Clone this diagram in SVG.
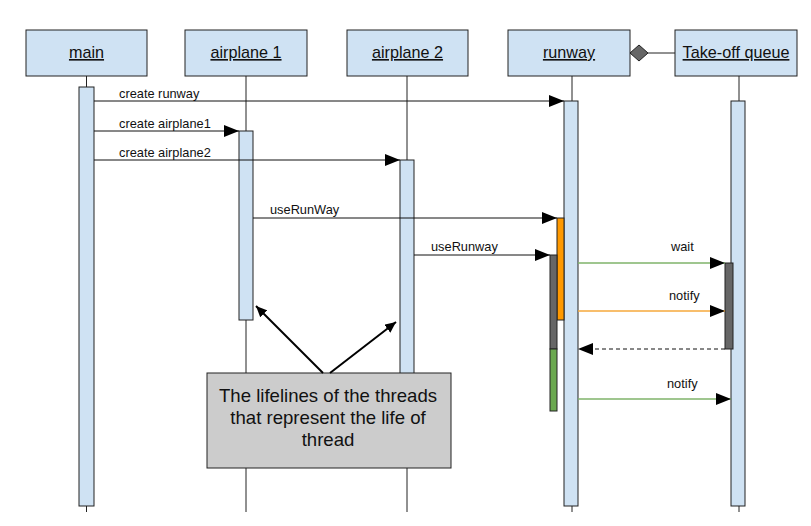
<svg xmlns="http://www.w3.org/2000/svg" width="811" height="526" viewBox="0 0 811 526">
<style>
.hd{fill:#cfe2f3;stroke:#222;stroke-width:1}
.ht{font-family:"Liberation Sans",Arial,sans-serif;font-size:16.2px;text-decoration:underline;text-anchor:middle;fill:#111}
.act{fill:#cfe2f3;stroke:#222;stroke-width:1}
.ll{stroke:#222;stroke-width:1}
.msg{stroke:#111;stroke-width:1;fill:none}
.lb{font-family:"Liberation Sans",Arial,sans-serif;font-size:12.8px;fill:#111}
.nt{font-family:"Liberation Sans",Arial,sans-serif;font-size:18.6px;text-anchor:middle;fill:#111}
</style>
<defs>
<marker id="ah" markerWidth="16" markerHeight="12" refX="15" refY="6" orient="auto" markerUnits="userSpaceOnUse">
<path d="M0,0 L15,6 L0,12 Z" fill="#000"/>
</marker>
<marker id="ah2" markerWidth="12" markerHeight="10" refX="11" refY="5" orient="auto" markerUnits="userSpaceOnUse">
<path d="M0,0 L11,5 L0,10 Z" fill="#000"/>
</marker>
</defs>
<rect width="811" height="526" fill="#fff"/>

<g id="lifelines">
<line class="ll" x1="86.5" y1="76" x2="86.5" y2="512"/>
<line class="ll" x1="246" y1="76" x2="246" y2="512"/>
<line class="ll" x1="407" y1="76" x2="407" y2="512"/>
<line class="ll" x1="572" y1="76" x2="572" y2="512"/>
<line class="ll" x1="739" y1="76" x2="739" y2="512"/>
</g>

<g id="main">
<rect class="hd" x="26" y="30" width="121" height="46"/>
<text class="ht" x="86.5" y="58">main</text>
<rect class="act" x="79" y="87" width="15" height="419"/>
</g>
<g id="airplane1">
<rect class="hd" x="185" y="30" width="122" height="46"/>
<text class="ht" x="246" y="58">airplane 1</text>
<rect class="act" x="239" y="131" width="14" height="189"/>
</g>
<g id="airplane2">
<rect class="hd" x="347" y="30" width="121" height="46"/>
<text class="ht" x="407.5" y="58">airplane 2</text>
<rect class="act" x="400" y="160" width="14" height="250"/>
</g>
<g id="runway">
<rect class="hd" x="508" y="30" width="122" height="46"/>
<text class="ht" x="569" y="58">runway</text>
<rect class="act" x="564" y="101" width="14" height="405"/>
<rect x="557" y="218" width="7" height="102" fill="#ff9900" stroke="#222" stroke-width="1"/>
<rect x="550" y="255" width="7" height="94" fill="#666" stroke="#222" stroke-width="1"/>
<rect x="550" y="349" width="7" height="62" fill="#6aa84f" stroke="#222" stroke-width="1"/>
</g>
<g id="takeoff-queue">
<rect class="hd" x="675" y="30" width="122" height="46"/>
<text class="ht" x="736" y="58">Take-off queue</text>
<rect class="act" x="731" y="101" width="14" height="405"/>
<rect x="725" y="263" width="8" height="86" fill="#666" stroke="#222" stroke-width="1"/>
</g>

<g id="note">
<rect x="207" y="373" width="244" height="95" fill="#cccccc" stroke="#222" stroke-width="1"/>
<text class="nt" x="328" y="402">The lifelines of the threads</text>
<text class="nt" x="328" y="424">that represent the life of</text>
<text class="nt" x="328" y="446">thread</text>
</g>

<g id="connectors">
<line x1="648" y1="53" x2="675" y2="53" stroke="#222" stroke-width="1"/>
<path d="M630,53 L639,45 L648,53 L639,61 Z" fill="#666" stroke="#222" stroke-width="1"/>

<line class="msg" x1="94" y1="101" x2="564" y2="101" marker-end="url(#ah)"/>
<text class="lb" x="119" y="98">create runway</text>
<line class="msg" x1="94" y1="131" x2="239" y2="131" marker-end="url(#ah)"/>
<text class="lb" x="119" y="128">create airplane1</text>
<line class="msg" x1="94" y1="160" x2="400" y2="160" marker-end="url(#ah)"/>
<text class="lb" x="119" y="157">create airplane2</text>
<line class="msg" x1="253" y1="218" x2="557" y2="218" marker-end="url(#ah)"/>
<text class="lb" x="270" y="214">useRunWay</text>
<line class="msg" x1="414" y1="255" x2="550" y2="255" marker-end="url(#ah)"/>
<text class="lb" x="431" y="251">useRunway</text>

<line x1="578" y1="263" x2="725" y2="263" stroke="#7fb36a" stroke-width="1.5" marker-end="url(#ah)"/>
<text class="lb" x="671" y="251">wait</text>
<line x1="578" y1="311" x2="725" y2="311" stroke="#f6a93b" stroke-width="1.5" marker-end="url(#ah)"/>
<text class="lb" x="669" y="300">notify</text>
<line x1="725" y1="349" x2="578" y2="349" stroke="#111" stroke-width="1" stroke-dasharray="4,3" marker-end="url(#ah)"/>
<line x1="578" y1="399" x2="731" y2="399" stroke="#7fb36a" stroke-width="1.5" marker-end="url(#ah)"/>
<text class="lb" x="667" y="388">notify</text>

<line x1="323" y1="373" x2="256" y2="306" stroke="#000" stroke-width="2" marker-end="url(#ah2)"/>
<line x1="330" y1="373" x2="396" y2="322" stroke="#000" stroke-width="2" marker-end="url(#ah2)"/>
</g>
</svg>
